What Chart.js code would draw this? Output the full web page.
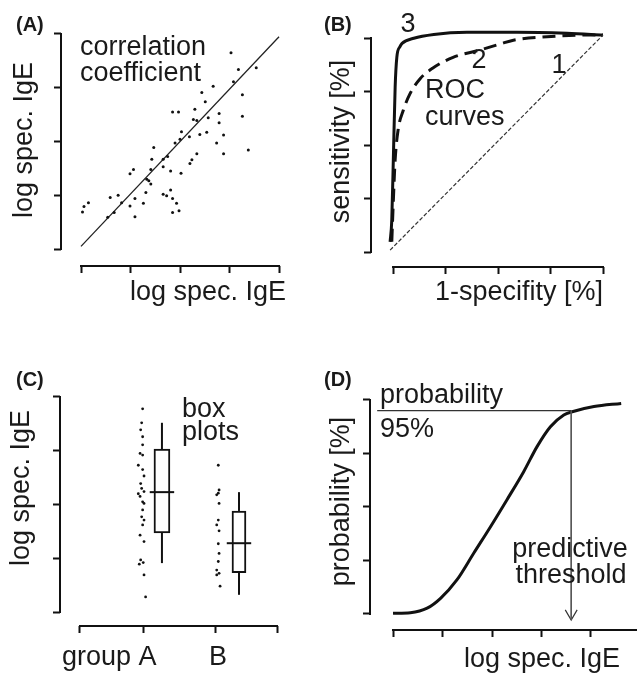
<!DOCTYPE html>
<html>
<head>
<meta charset="utf-8">
<script src="https://cdn.jsdelivr.net/npm/chart.js@4.4.0/dist/chart.umd.min.js"></script>
<style>
html, body { margin: 0; padding: 0; background: #fff; overflow: hidden; width: 637px; height: 675px; }
canvas { position: absolute; }
</style>
</head>
<body>
<canvas id="panel_a" width="318" height="337" style="left:0;top:0"></canvas>
<canvas id="panel_b" width="319" height="337" style="left:318px;top:0"></canvas>
<canvas id="panel_c" width="318" height="338" style="left:0;top:337px"></canvas>
<canvas id="panel_d" width="319" height="345" style="left:318px;top:337px"></canvas>
<script>
// (A) correlation scatter
const corrX = [3.03,3.18,3.54,3.08,2.67,2.44,3.26,2.51,1.85,1.97,2.30,2.27,2.34,2.57,2.79,2.79,3.26,2.03,2.40,2.54,2.88,2.00,1.90,2.19,1.47,2.74,2.88,3.38,2.34,1.75,1.66,1.43,2.24,2.20,1.41,1.66,1.06,0.99,1.81,2.02,1.33,1.37,1.41,1.31,0.59,0.75,0.82,1.09,1.26,0.99,1.09,0.67,0.54,1.66,1.73,1.81,1.85,1.93,1.85,1.98,0.15,0.06,0.03];
const corrY = [3.65,3.34,3.37,3.11,3.03,2.91,2.87,2.74,2.55,2.55,2.60,2.41,2.39,2.44,2.52,2.35,2.47,2.18,2.13,2.17,2.12,2.04,1.97,2.09,1.89,1.97,1.77,1.84,1.77,1.72,1.67,1.67,1.66,1.59,1.48,1.53,1.48,1.40,1.45,1.41,1.30,1.27,1.21,1.05,0.96,1.00,0.86,0.94,0.85,0.80,0.60,0.68,0.59,1.02,0.99,1.10,0.94,0.85,0.68,0.71,0.86,0.79,0.69];
const fitX = [0, 4];
const fitY = [0.05, 3.95];
const ticksA = [0, 1, 2, 3, 4];

// (B) ROC curves
const roc3X = [-0.014,-0.006,0.002,0.01,0.018,0.033,0.043,0.099,0.194,0.352,0.59,0.829,1.0];
const roc3Y = [0.047,0.15,0.46,0.77,0.91,0.96,0.975,0.999,1.017,1.027,1.027,1.022,1.014];
const roc2X = [-0.006,0.001,0.01,0.024,0.048,0.081,0.129,0.19,0.286,0.414,0.51,0.573,0.733,0.938,1.0];
const roc2Y = [0.048,0.23,0.43,0.57,0.66,0.74,0.81,0.86,0.91,0.944,0.972,0.99,1.006,1.014,1.014];
const roc1X = [-0.014, 1.0];
const roc1Y = [0.009, 1.014];
const ticksB = [0, 0.25, 0.5, 0.75, 1];

// (C) box plots
const groupTicks = [0, 32, 69, 100];
const groupAX = [31.8,31.3,30.8,31.8,31.8,30.5,31.8,29.6,31.8,32.5,30.8,31.3,32.5,29.6,30.5,31.8,32.5,31.8,31.3,32.5,31.8,30.5,32.5,30.8,32.1,30.1,32.5,33.3];
const groupAY = [3.78,3.52,3.39,3.26,3.11,2.95,2.92,2.73,2.65,2.53,2.39,2.30,2.24,2.20,2.15,2.05,2.02,1.90,1.77,1.71,1.62,1.43,1.31,0.97,0.92,0.89,0.69,0.28];
const groupBX = [70.2,70.6,70.2,69.4,70.6,70.2,69.4,70.6,70.2,70.6,70.2,69.4,70.6,69.4,71.1];
const groupBY = [2.73,2.27,2.21,2.18,2.02,1.71,1.62,1.51,1.27,1.09,0.94,0.78,0.72,0.69,0.48];
const boxPos = [41.6, 80.7];
const boxMin = [0.91, 0.32];
const boxQ1 = [1.47, 0.73];
const boxMedian = [2.23, 1.28];
const boxQ3 = [3.03, 1.88];
const boxMax = [3.52, 2.23];
const ticksC = [0, 1, 2, 3, 4];

// (D) probability curve
const probX = [0,0.35,0.69,0.96,1.29,1.63,1.97,2.30,2.64,2.91,3.18,3.45,3.62,4.06,4.61];
const probY = [0.3,0.6,2.7,7.3,15.9,28.4,40.8,53.3,66.5,78.2,87.5,93.0,94.5,96.9,98.4];
const cutLevel = 95;
const cutStartX = -0.32;
const thresholdX = 3.6;
const arrowTipY = -2.8;
const ticksDX = [0, 1, 2, 3, 4, 5];
const ticksDY = [0, 25, 50, 75, 100];

const INK = '#111';
const TEXT = '#1a1a1a';
const NOTE_FONT = "27px 'Liberation Sans', Arial, sans-serif";
const TAG_FONT = "bold 20px 'Liberation Sans', Arial, sans-serif";
Chart.defaults.font.family = "'Liberation Sans', Arial, Helvetica, sans-serif";
Chart.defaults.color = TEXT;

function pts(xs, ys) {
    return xs.map((x, i) => ({x: x, y: ys[i]}));
}

function line(xs, ys, width, color, dash, smooth) {
    return {
        type: 'line',
        data: pts(xs, ys),
        borderColor: color,
        borderWidth: width,
        borderDash: dash || [],
        pointRadius: 0,
        cubicInterpolationMode: smooth ? 'monotone' : 'default',
        tension: 0,
        clip: false
    };
}

function dots(xs, ys, r) {
    return {
        type: 'scatter',
        data: pts(xs, ys),
        pointRadius: r,
        pointBackgroundColor: INK,
        pointBorderWidth: 0
    };
}

// title line height 31.2 px (26 * 1.2) is kept so the paddings below stay valid
function axis(min, max, ticks, title, pad, align) {
    return {
        type: 'linear',
        min: min,
        max: max,
        offset: false,
        afterBuildTicks: (s) => { s.ticks = ticks.map(v => ({value: v})); },
        ticks: {display: false},
        border: {display: false},
        grid: {offset: false, drawOnChartArea: false, drawTicks: true, tickLength: 7, tickWidth: 2, tickColor: INK},
        title: title ? {display: true, text: title, font: {size: 27, lineHeight: 31.2 / 27}, color: TEXT, padding: pad, align: align || 'center'} : {display: false}
    };
}

// axis lines run from first to last tick only
const spines = {
    id: 'spines',
    afterDraw(chart) {
        const ctx = chart.ctx;
        const xs = chart.scales.x, ys = chart.scales.y;
        const xt = xs.ticks, yt = ys.ticks;
        ctx.save();
        ctx.strokeStyle = INK;
        ctx.lineWidth = 2;
        ctx.lineCap = 'square';
        ctx.beginPath();
        ctx.moveTo(xs.getPixelForValue(xt[0].value), xs.top);
        ctx.lineTo(xs.getPixelForValue(xt[xt.length - 1].value), xs.top);
        ctx.moveTo(ys.right, ys.getPixelForValue(yt[0].value));
        ctx.lineTo(ys.right, ys.getPixelForValue(yt[yt.length - 1].value));
        ctx.stroke();
        ctx.restore();
    }
};

function notes(list) {
    return {
        id: 'notes',
        afterDraw(chart) {
            const ctx = chart.ctx;
            list.forEach(n => {
                ctx.save();
                ctx.font = n[3] === 'tag' ? TAG_FONT : NOTE_FONT;
                ctx.fillStyle = TEXT;
                ctx.textAlign = n[4] || 'left';
                ctx.textBaseline = 'alphabetic';
                ctx.fillText(n[0], n[1], n[2]);
                ctx.restore();
            });
        }
    };
}

function makeChart(id, datasets, pad, xAxis, yAxis, noteList) {
    return new Chart(document.getElementById(id).getContext('2d'), {
        type: 'scatter',
        data: {datasets: datasets},
        options: {
            responsive: false,
            animation: false,
            events: [],
            layout: {padding: pad, autoPadding: false},
            plugins: {legend: {display: false}, tooltip: {enabled: false}},
            scales: {x: xAxis, y: yAxis}
        },
        plugins: [spines, notes(noteList)]
    });
}

// (A)
makeChart('panel_a',
    [dots(corrX, corrY, 1.5), line(fitX, fitY, 1.3, '#222')],
    {left: 9.4, right: 32, top: 14, bottom: 28.4},
    axis(-0.404, 4.141, ticksA, 'log spec. IgE', {top: 4.4, bottom: 0}, 'end'),
    axis(-0.316, 4.372, ticksA, 'log spec. IgE', {top: 0, bottom: 13.4}),
    [['(A)', 16, 31, 'tag'], ['correlation', 80, 55], ['coefficient', 80, 81]]
);

// (B)
makeChart('panel_b',
    [line(roc1X, roc1Y, 1.2, '#333', [4, 2]),
     line(roc2X, roc2Y, 3, INK, [13, 7], true),
     line(roc3X, roc3Y, 3, INK, null, true)],
    {left: 8.4, right: 34, top: 16, bottom: 28.4},
    axis(-0.105, 1.0, ticksB, '1-specifity [%]', {top: 3.4, bottom: 0}, 'end'),
    axis(-0.070, 1.103, ticksB, 'sensitivity [%]', {top: 0, bottom: 6.4}),
    [['(B)', 6, 31, 'tag'], ['3', 90, 32, '', 'center'], ['2', 161, 68, '', 'center'],
     ['1', 241, 73, '', 'center'], ['ROC', 107, 98], ['curves', 107, 125]]
);

// (C)
const medianHalf = 6.2;
const boxSets = [];
boxPos.forEach((p, i) => {
    boxSets.push(line([p, p], [boxMin[i], boxQ1[i]], 2, INK));
    boxSets.push(line([p, p], [boxQ3[i], boxMax[i]], 2, INK));
    boxSets.push({
        type: 'bar',
        data: [{x: p, y: [boxQ1[i], boxQ3[i]]}],
        backgroundColor: '#fff',
        borderColor: INK,
        borderWidth: 2,
        borderSkipped: false,
        barThickness: i === 0 ? 16 : 14,
        grouped: false,
        order: 1
    });
    boxSets.push(Object.assign(line([p - medianHalf, p + medianHalf], [boxMedian[i], boxMedian[i]], 2, INK), {order: 0}));
});
makeChart('panel_c',
    [dots(groupAX, groupAY, 1.4), dots(groupBX, groupBY, 1.4)].concat(boxSets),
    {left: 6.4, right: 41, top: 13, bottom: 42},
    axis(-10.15, 100, groupTicks, null),
    axis(-0.26, 4.874, ticksC, 'log spec. IgE', {top: 0, bottom: 15.4}),
    [['(C)', 16, 49, 'tag'], ['box', 182, 80], ['plots', 182, 103],
     ['group A', 62, 328], ['B', 209, 328]]
);

// (D)
const arrowDX = 0.12, arrowDY = 4.7;
makeChart('panel_d',
    [line([cutStartX, thresholdX], [cutLevel, cutLevel], 1.3, '#333'),
     line([thresholdX, thresholdX], [cutLevel, arrowTipY], 1, '#555'),
     line([thresholdX - arrowDX, thresholdX, thresholdX + arrowDX], [arrowTipY + arrowDY, arrowTipY, arrowTipY + arrowDY], 1.2, '#333'),
     line(probX, probY, 3, INK, null, true)],
    {left: 8.4, right: 17, top: 36, bottom: 6.4},
    axis(-0.465, 4.586, ticksDX, 'log spec. IgE', {top: 7.4, bottom: 0}, 'end'),
    axis(-7.48, 112.6, ticksDY, 'probability [%]', {top: 0, bottom: 5.4}),
    [['(D)', 6, 49, 'tag'], ['probability', 62, 66], ['95%', 62, 100],
     ['predictive', 252, 220, '', 'center'], ['threshold', 253, 246, '', 'center']]
);
</script>
</body>
</html>
